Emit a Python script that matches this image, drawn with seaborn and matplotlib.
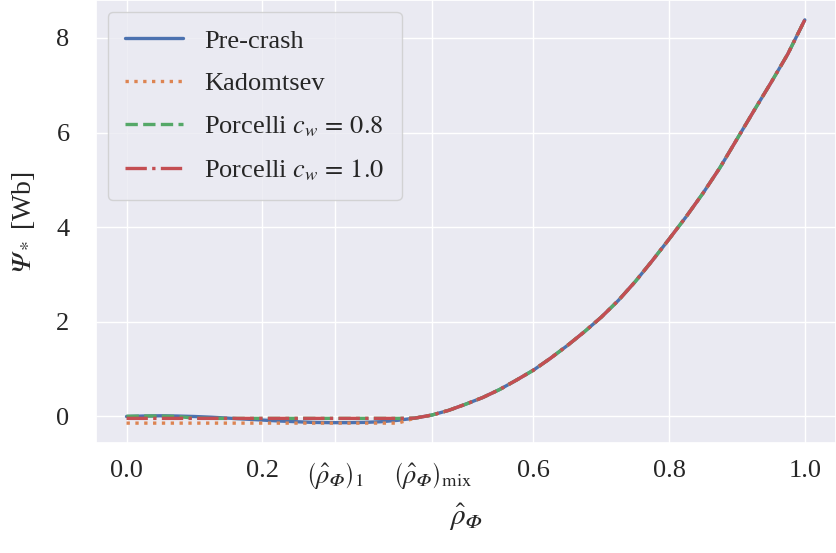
import numpy as np
import pandas as pd
import matplotlib
matplotlib.use("Agg")
import matplotlib.pyplot as plt
import seaborn as sns

# ---- data ----
rho = [0.000, 0.025, 0.050, 0.075, 0.100, 0.125, 0.150, 0.175, 0.200, 0.225,
       0.250, 0.275, 0.300, 0.325, 0.350, 0.375, 0.400, 0.425, 0.450, 0.475,
       0.500, 0.525, 0.550, 0.575, 0.600, 0.625, 0.650, 0.675, 0.700, 0.725,
       0.750, 0.775, 0.800, 0.825, 0.850, 0.875, 0.900, 0.925, 0.950, 0.975,
       1.000]
pre_crash = [0.00, 0.01, 0.015, 0.01, 0.00, -0.015, -0.035, -0.055, -0.075, -0.095,
             -0.11, -0.125, -0.13, -0.13, -0.125, -0.11, -0.08, -0.035, 0.03, 0.13,
             0.26, 0.40, 0.57, 0.77, 0.98, 1.23, 1.50, 1.79, 2.10, 2.45,
             2.85, 3.29, 3.75, 4.22, 4.72, 5.26, 5.86, 6.46, 7.05, 7.66,
             8.38]
kadomtsev = [-0.14] * 17 + pre_crash[17:]
porcelli_08 = [0.005, 0.01, 0.01, 0.0, -0.035] + [-0.04] * 12 + pre_crash[17:]
porcelli_10 = [-0.04] * 17 + pre_crash[17:]

PHI = "\U0001D6F7"   # mathematical italic capital phi
PSI = "\U0001D6F9"   # mathematical italic capital psi

xtick_vals = [0.0, 0.2, 0.307, 0.451, 0.6, 0.8, 1.0]
xtick_labels = ["0.0", "0.2", r"$\left(\hat{\rho}_{" + PHI + r"}\right)_1$",
                r"$\left(\hat{\rho}_{" + PHI + r"}\right)_\mathrm{mix}$", "0.6", "0.8", "1.0"]
ytick_vals = [0, 2, 4, 6, 8]

series = [("Pre-crash", pre_crash, "-"),
          ("Kadomtsev", kadomtsev, ":"),
          (r"Porcelli $c_w\, =\, 0.8$", porcelli_08, "--"),
          (r"Porcelli $c_w\, =\, 1.0$", porcelli_10, "-.")]

# ---- style ----
sns.set_theme(style="darkgrid", palette="deep")
plt.rcParams["font.family"] = ["Liberation Serif", "DejaVu Serif"]
plt.rcParams["mathtext.fontset"] = "stix"

fig = plt.figure(figsize=(8.36, 5.53), dpi=100)
ax = fig.add_axes([96 / 836, 110 / 553, 740 / 836, 443 / 553])

colors = sns.color_palette("deep")
for i, (name, vals, ls) in enumerate(series):
    df = pd.DataFrame({"rho": rho, "psi": vals})
    sns.lineplot(data=df, x="rho", y="psi", ax=ax, color=colors[i],
                 linestyle=ls, linewidth=2.4, label=name)

ax.set_xlim(-0.045, 1.046)
ax.set_ylim(-0.56, 8.8)
ax.set_xticks(xtick_vals)
ax.set_xticklabels(xtick_labels)
ax.set_yticks(ytick_vals)
ax.tick_params(axis="x", labelsize=19, pad=6)
ax.tick_params(axis="y", labelsize=19, pad=13)
ax.set_xlabel(r"$\hat{\rho}_{" + PHI + r"}$", fontsize=21, labelpad=8)
ax.set_ylabel(r"$" + PSI + r"_*$ [Wb]", fontsize=20, labelpad=14)

leg = ax.legend(loc="upper left", fontsize=19, frameon=True, handlelength=2.2,
                borderaxespad=0.45, borderpad=0.65, labelspacing=0.72)
leg.get_frame().set_edgecolor("0.8")
leg.get_frame().set_facecolor("#EAEAF2")
leg.get_frame().set_alpha(0.8)

fig.savefig("out.png", dpi=100)
